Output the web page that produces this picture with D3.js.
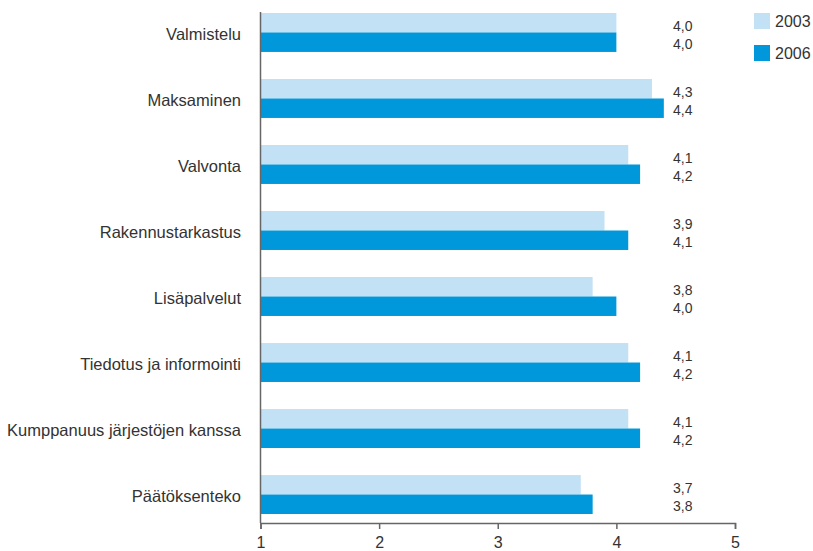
<!DOCTYPE html>
<html lang="fi">
<head>
<meta charset="utf-8">
<style>
  body { margin: 0; background: white; }
  svg { font-family: 'Liberation Sans', Arial, sans-serif; }
  .axis path, .axis line { stroke: #666; stroke-width: 1.5px; }
  .axis text { fill: #333; font-size: 16px; }
  .cat { fill: #333; font-size: 16.5px; }
  .val { fill: #333; font-size: 14px; }
  .legend text { fill: #333; font-size: 16px; }
</style>
</head>
<body>
<svg width="813" height="551"></svg>
<script src="https://d3js.org/d3.v7.min.js"></script>
<script>
const categories = ["Valmistelu", "Maksaminen", "Valvonta", "Rakennustarkastus",
  "Lisäpalvelut", "Tiedotus ja informointi", "Kumppanuus järjestöjen kanssa", "Päätöksenteko"];
const years = ["2003", "2006"];
const values2003 = [4.0, 4.3, 4.1, 3.9, 3.8, 4.1, 4.1, 3.7];
const values2006 = [4.0, 4.4, 4.2, 4.1, 4.0, 4.2, 4.2, 3.8];
const xTicks = [1, 2, 3, 4, 5];
const colors = ["#c3e1f4", "#0098da"];

const svg = d3.select("svg");
const x = d3.scaleLinear().domain([1, 5]).range([260.5, 735]);
const y = d3.scaleBand().domain(categories).range([13, 514]).paddingInner(0.41).paddingOuter(0);
const ySub = d3.scaleBand().domain(years).range([0, y.bandwidth()]);
const color = d3.scaleOrdinal().domain(years).range(colors);

const rows = categories.map((c, i) => ({ cat: c, vals: [
  { year: "2003", v: values2003[i] }, { year: "2006", v: values2006[i] }] }));

const g = svg.selectAll("g.row").data(rows).enter().append("g")
  .attr("class", "row")
  .attr("transform", d => "translate(0," + y(d.cat) + ")");

g.selectAll("rect").data(d => d.vals).enter().append("rect")
  .attr("x", x(1))
  .attr("y", d => ySub(d.year))
  .attr("width", d => x(d.v) - x(1))
  .attr("height", ySub.bandwidth())
  .attr("fill", d => color(d.year));

g.selectAll("text.val").data(d => d.vals).enter().append("text")
  .attr("class", "val")
  .attr("x", 673)
  .attr("y", d => ySub(d.year) + ySub.bandwidth() / 2 + (d.year === "2003" ? 3 : 2))
  .attr("dy", "0.35em")
  .text(d => d3.format(".1f")(d.v).replace(".", ","));

g.append("text")
  .attr("class", "cat")
  .attr("x", 241)
  .attr("y", y.bandwidth() / 2 + 2)
  .attr("dy", "0.35em")
  .attr("text-anchor", "end")
  .text(d => d.cat);

// axes
svg.append("g")
  .attr("class", "axis x")
  .attr("transform", "translate(0,523)")
  .call(d3.axisBottom(x).tickValues(xTicks).tickSize(6).tickPadding(8).tickFormat(d3.format("d")));
svg.append("line")
  .attr("class", "yline")
  .attr("x1", x(1)).attr("x2", x(1))
  .attr("y1", 12).attr("y2", 523)
  .attr("stroke", "#666").attr("stroke-width", 1.5);

// legend
const lg = svg.append("g").attr("class", "legend")
  .selectAll("g").data(years).enter().append("g")
  .attr("transform", (d, i) => "translate(754," + (13 + i * 32) + ")");
lg.append("rect").attr("width", 16).attr("height", 16).attr("fill", d => color(d));
lg.append("text").attr("x", 21).attr("y", 8).attr("dy", "0.35em").text(d => d);
</script>
</body>
</html>
